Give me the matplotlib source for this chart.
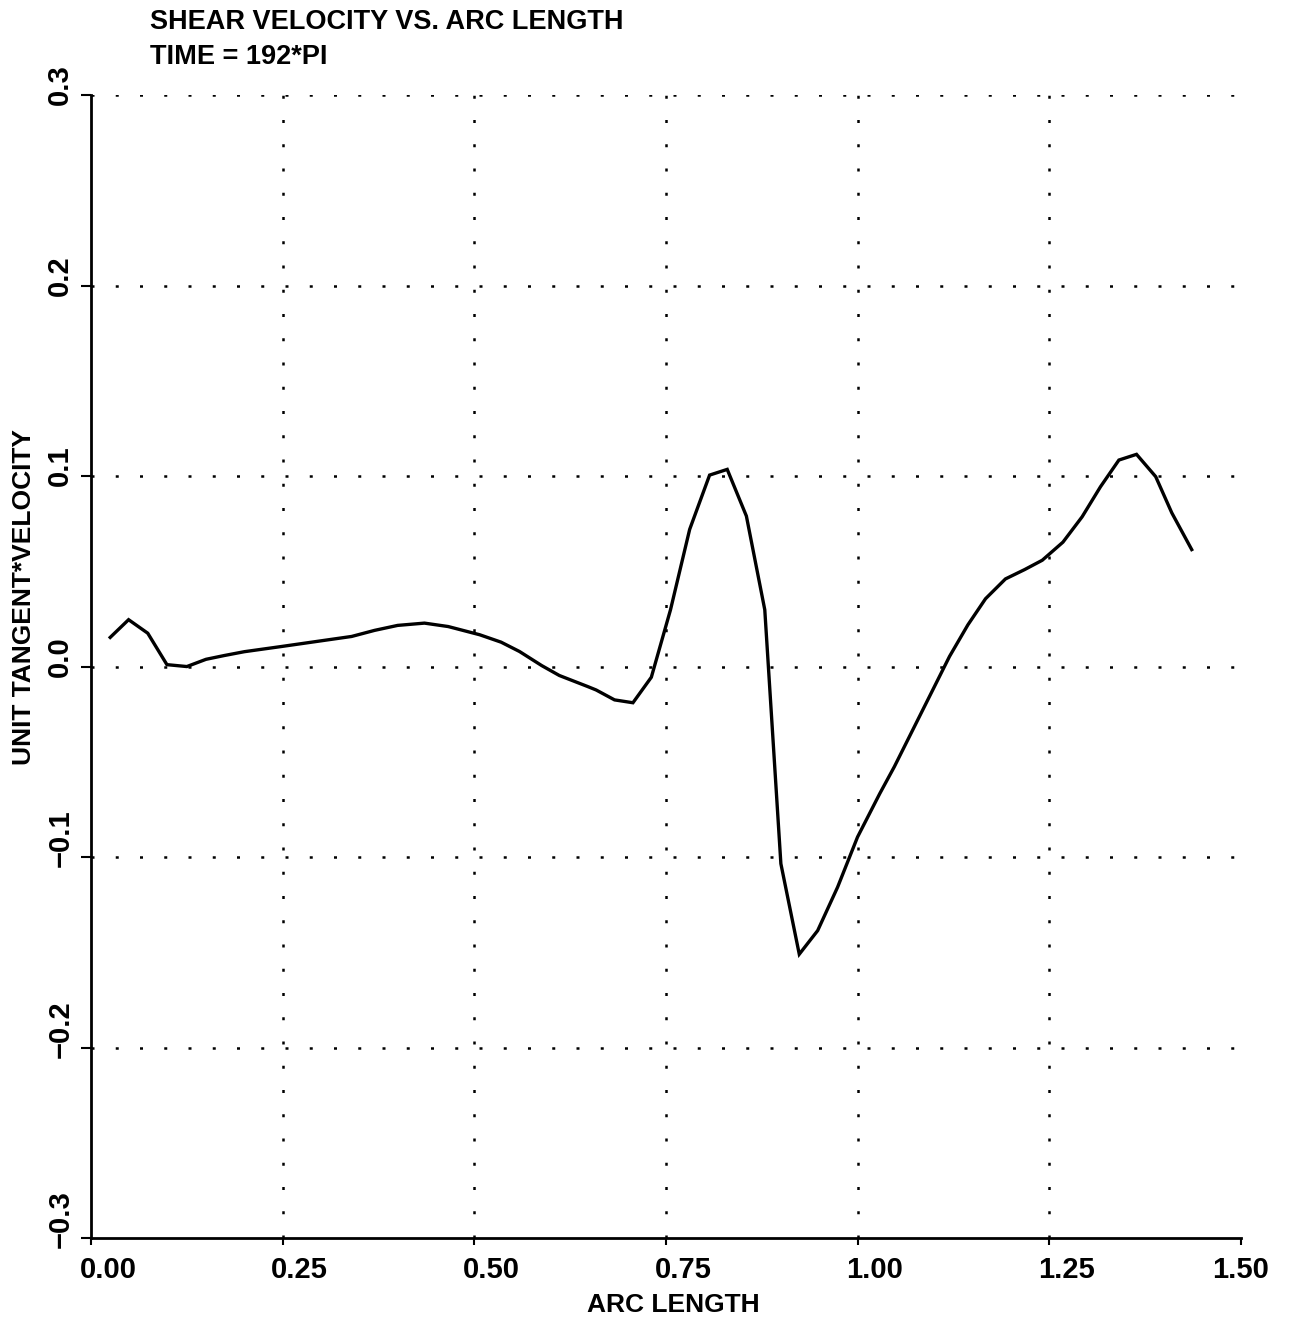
import matplotlib
matplotlib.use("Agg")
import matplotlib.pyplot as plt
import matplotlib.transforms as mtransforms

# arc length / unit tangent * velocity
arc = [0.025, 0.049, 0.074, 0.099, 0.125, 0.150, 0.174, 0.200, 0.248, 0.274,
       0.300, 0.340, 0.370, 0.400, 0.435, 0.466, 0.507, 0.535, 0.559, 0.588,
       0.611, 0.648, 0.659, 0.683, 0.707, 0.731, 0.756, 0.781, 0.807, 0.830,
       0.855, 0.879, 0.900, 0.924, 0.948, 0.974, 1.000, 1.029, 1.048, 1.072,
       1.096, 1.120, 1.144, 1.167, 1.193, 1.218, 1.241, 1.268, 1.293, 1.317,
       1.341, 1.364, 1.389, 1.410, 1.436]
vel = [0.0153, 0.0246, 0.0175, 0.0010, 0.0000, 0.0038, 0.0058, 0.0078, 0.0105, 0.0120,
       0.0135, 0.0158, 0.0190, 0.0216, 0.0228, 0.0210, 0.0167, 0.0128, 0.0079, 0.0005,
       -0.0047, -0.0105, -0.0123, -0.0175, -0.0190, -0.0056, 0.0298, 0.0720, 0.1005, 0.1035,
       0.0790, 0.0298, -0.1035, -0.1510, -0.1386, -0.1158, -0.0895, -0.0667, -0.0526, -0.0333,
       -0.0140, 0.0053, 0.0219, 0.0356, 0.0460, 0.0509, 0.0558, 0.0653, 0.0786, 0.0944,
       0.1084, 0.1114, 0.0997, 0.0807, 0.0614]

xticks = [0.0, 0.25, 0.5, 0.75, 1.0, 1.25, 1.5]
xlabels = ["0.00", "0.25", "0.50", "0.75", "1.00", "1.25", "1.50"]
yticks = [-0.3, -0.2, -0.1, 0.0, 0.1, 0.2, 0.3]
ylabels = ["\u22120.3", "\u22120.2", "\u22120.1", "0.0", "0.1", "0.2", "0.3"]

plt.rcParams['font.family'] = ['Liberation Sans', 'DejaVu Sans']
plt.rcParams['font.weight'] = 'bold'

fig = plt.figure(figsize=(13.08, 13.22), dpi=100)
ax = fig.add_axes([0.0696, 0.0635, 0.879, 0.8646])

# sparse dotted grid
for v in xticks[1:-1]:
    ax.axvline(v, color='black', lw=1.8, ls=(0, (1.2, 8.5)), zorder=1)
for v in yticks[1:]:
    ax.axhline(v, color='black', lw=1.8, ls=(0, (1.2, 8.5)), zorder=1)

ax.plot(arc, vel, color='black', lw=2.4, solid_joinstyle='miter', zorder=3)

ax.set_xlim(0, 1.5)
ax.set_ylim(-0.3, 0.3)
ax.set_xticks(xticks)
ax.set_xticklabels(xlabels, fontsize=21, fontweight='bold')
ax.set_yticks(yticks)
ax.set_yticklabels(ylabels, fontsize=21, fontweight='bold', rotation=90, va='bottom')

ax.spines['top'].set_visible(False)
ax.spines['right'].set_visible(False)
ax.spines['left'].set_linewidth(2)
ax.spines['bottom'].set_linewidth(2)
ax.tick_params(axis='x', direction='out', length=5, width=1.5, pad=8)
ax.tick_params(axis='y', direction='out', length=7, width=1.5, pad=5)

# shift tick labels the way the original plotter placed them
for i, lbl in enumerate(ax.get_xticklabels()):
    dx = 17 if i < len(xlabels) - 1 else 0
    lbl.set_transform(lbl.get_transform() + mtransforms.Affine2D().translate(dx, 0))
for lbl in ax.get_yticklabels():
    lbl.set_transform(lbl.get_transform() + mtransforms.Affine2D().translate(0, -10))

fig.text(0.515, 0.013, "ARC LENGTH", fontsize=19, fontweight='bold',
         ha='center', va='center')
fig.text(0.018, 0.548, "UNIT TANGENT*VELOCITY", rotation=90, fontsize=19,
         fontweight='bold', ha='center', va='center')

fig.text(0.1147, 0.983, "SHEAR VELOCITY VS. ARC LENGTH", fontsize=19.5,
         fontweight='bold', ha='left', va='center')
fig.text(0.1147, 0.957, "TIME = 192*PI", fontsize=19.5,
         fontweight='bold', ha='left', va='center')

fig.savefig("out.png", dpi=100)
